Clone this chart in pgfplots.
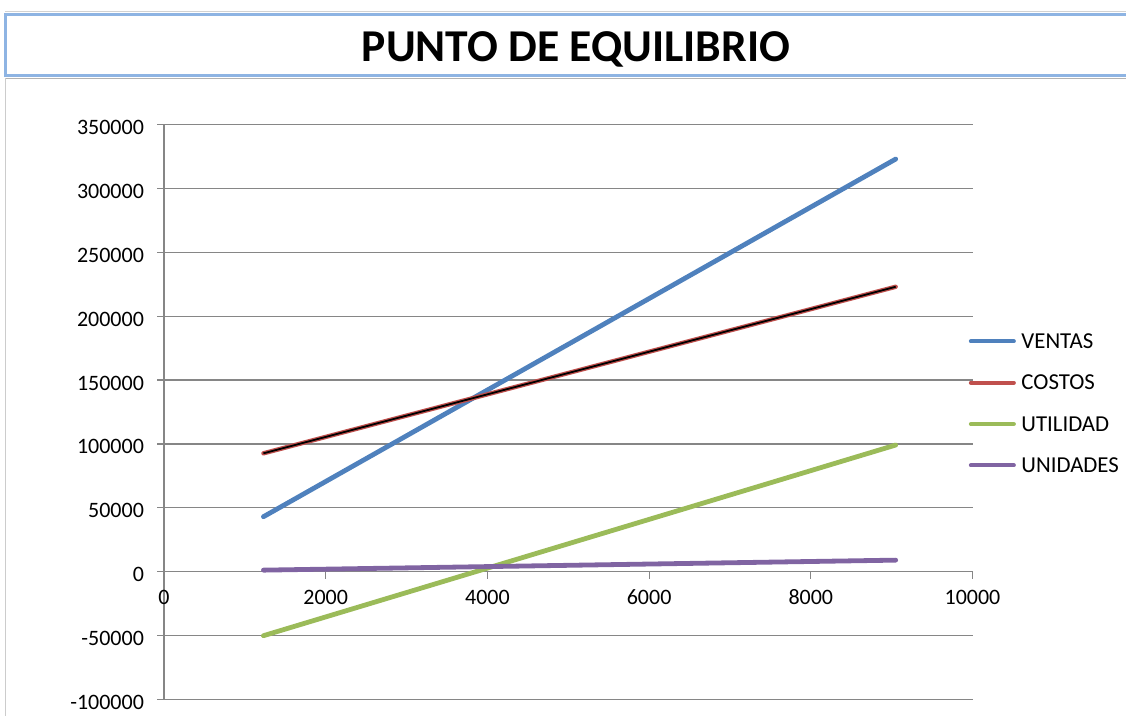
\documentclass[border=0pt]{standalone}
\usepackage{fontspec}
\setmainfont{Carlito}
\usepackage{pgfplots}
\pgfplotsset{compat=1.18}
\definecolor{cVentas}{HTML}{4F81BD}
\definecolor{cCostos}{HTML}{C0504D}
\definecolor{cUtil}{HTML}{9BBB59}
\definecolor{cUnid}{HTML}{8064A2}
\definecolor{cBox}{HTML}{8EB4E3}
\definecolor{cGrid}{HTML}{868686}
\begin{document}
\begin{tikzpicture}
\useasboundingbox (0,0) rectangle (563pt,358pt);
% title box
\draw[draw=gray!35, line width=0.5pt] (2.5pt,352.2pt) -- (575pt,352.2pt);
\draw[draw=cBox, line width=1.5pt] (2.5pt,320pt) rectangle (575pt,350.8pt);
\draw[draw=gray!60, line width=0.5pt] (2.5pt,318.8pt) -- (575pt,318.8pt);
\draw[draw=gray!40, line width=0.5pt] (2.5pt,318.8pt) -- (2.5pt,0pt);
\node[anchor=base, inner sep=0pt, font=\fontsize{22.8}{26}\selectfont\bfseries] at (288pt,327.2pt) {PUNTO DE EQUILIBRIO};
\begin{axis}[
  at={(82pt,8.25pt)}, anchor=south west,
  scale only axis, width=404.25pt, height=287.5pt,
  xmin=0, xmax=10000, ymin=-100000, ymax=350000,
  axis x line=middle, axis y line=left,
  axis line style={-, draw=cGrid, line width=0.6pt},
  every inner x axis line/.append style={-},
  every outer y axis line/.append style={-},
  xtick={0,2000,...,10000},
  ytick={-100000,-50000,...,350000},
  ymajorgrids, grid style={draw=cGrid, line width=0.6pt},
  tick align=outside, major tick length=3.5pt,
  tick style={draw=cGrid, line width=0.6pt},
  scaled ticks=false,
  ticklabel style={font=\fontsize{11}{13}\selectfont},
  /pgf/number format/assume math mode=true,
  /pgf/number format/1000 sep={},
  /pgf/number format/fixed,
  yticklabel style={xshift=-3pt, yshift=-1.5pt},
  xticklabel style={yshift=-2pt},
  hide obscured x ticks=false,
  clip=false,
  legend style={at={(0.995,0.515)}, anchor=west, draw=none, fill=none,
    inner sep=0pt, font=\fontsize{11.4}{13}\selectfont,
    nodes={inner sep=0pt, text height=7pt, text depth=0pt},
    row sep=13.7pt,
    /tikz/every odd column/.append style={column sep=2.8pt}},
  legend cell align=left,
  legend image code/.code={\draw[#1, line width=2pt, line cap=round] (1pt,0pt) -- (22.5pt,0pt);},
]
\addplot[cVentas, line width=2.4pt, line cap=round] coordinates {(1230,43040) (9050,322940)};
\addlegendentry{VENTAS}
\addplot[cCostos, line width=2.2pt, line cap=round] coordinates {(1230,92650) (9050,223000)};
\addlegendentry{COSTOS}
\addplot[cUtil, line width=2.4pt, line cap=round] coordinates {(1230,-50080) (9050,99140)};
\addlegendentry{UTILIDAD}
\addplot[cUnid, line width=2.4pt, line cap=round] coordinates {(1230,1230) (9050,9050)};
\addlegendentry{UNIDADES}
\addplot[black, line width=0.9pt, forget plot] coordinates {(1230,92650) (9050,223000)};
\end{axis}
\end{tikzpicture}
\end{document}
